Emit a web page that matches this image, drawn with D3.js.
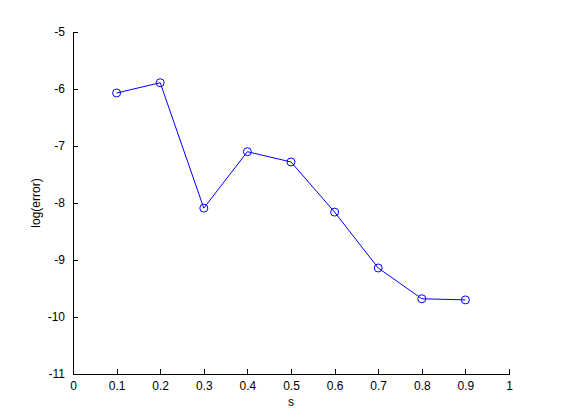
<!DOCTYPE html>
<html><head><meta charset="utf-8">
<script src="https://cdn.jsdelivr.net/npm/d3@7"></script>
<style>body{margin:0;background:#fff}svg{display:block}</style>
</head><body>
<script>
const sValues = [0.1, 0.2, 0.3, 0.4, 0.5, 0.6, 0.7, 0.8, 0.9];
const logErrors = [-6.07, -5.89, -8.09, -7.10, -7.28, -8.16, -9.14, -9.68, -9.70];
const xTicks = [0, 0.1, 0.2, 0.3, 0.4, 0.5, 0.6, 0.7, 0.8, 0.9, 1];
const yTicks = [-11, -10, -9, -8, -7, -6, -5];
const xLabel = "s";
const yLabel = "log(error)";

const W = 561, H = 420;
const m = {left: 73, right: 52, top: 32, bottom: 46};
const svg = d3.select("body").append("svg").attr("width", W).attr("height", H);
const x = d3.scaleLinear().domain([0, 1]).range([m.left, W - m.right]);
const y = d3.scaleLinear().domain([-11, -5]).range([H - m.bottom, m.top]);
const font = "Liberation Sans, Arial, sans-serif";
const fmt = d => String(d);

const gx = svg.append("g").attr("transform", `translate(0,${H - m.bottom})`)
  .call(d3.axisBottom(x).tickValues(xTicks).tickSizeInner(-5).tickSizeOuter(0).tickPadding(7).tickFormat(fmt));
const gy = svg.append("g").attr("transform", `translate(${m.left},0)`)
  .call(d3.axisLeft(y).tickValues(yTicks).tickSizeInner(-5).tickSizeOuter(0).tickPadding(8).tickFormat(fmt));
[gx, gy].forEach(g => {
  g.selectAll("path,line").attr("stroke", "#000").attr("stroke-width", 1).attr("shape-rendering", "crispEdges");
  g.selectAll("text").attr("font-family", font).attr("font-size", 12).attr("fill", "#000");
});

const line = d3.line().x((d, i) => x(sValues[i])).y(d => y(d));
svg.append("path").datum(logErrors).attr("d", line)
  .attr("fill", "none").attr("stroke", "#0000ff").attr("stroke-width", 1);
svg.selectAll("circle.pt").data(logErrors).enter().append("circle")
  .attr("cx", (d, i) => x(sValues[i])).attr("cy", d => y(d)).attr("r", 4)
  .attr("fill", "none").attr("stroke", "#0000ff").attr("stroke-width", 1);

svg.append("text").attr("x", (m.left + W - m.right) / 2).attr("y", 406)
  .attr("text-anchor", "middle").attr("font-family", font).attr("font-size", 12).text(xLabel);
svg.append("text").attr("transform", `translate(40,${(m.top + H - m.bottom) / 2}) rotate(-90)`)
  .attr("text-anchor", "middle").attr("font-family", font).attr("font-size", 12).text(yLabel);
</script>
</body></html>
